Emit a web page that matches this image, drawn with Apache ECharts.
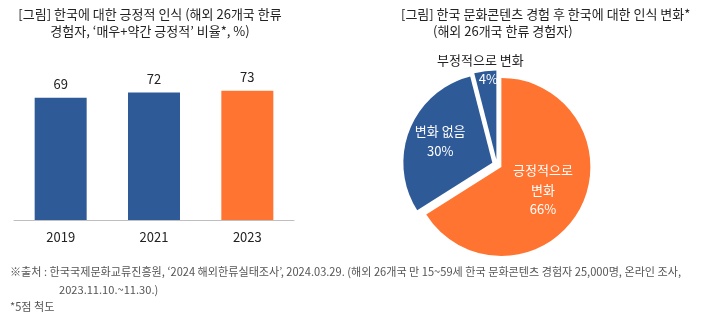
<!DOCTYPE html>
<html><head><meta charset="utf-8">
<script src="https://cdn.jsdelivr.net/npm/echarts@6/dist/echarts.min.js"></script>
<style>html,body{margin:0;padding:0;background:#fff}#c{width:710px;height:327px}</style>
</head><body><div id="c"></div>
<script>
// ---- data ----
const years = ['2019', '2021', '2023'];
const positiveRates = [69, 72, 73];
const changeNames = ['긍정적으로 변화', '변화 없음', '부정적으로 변화'];
const changeValues = [66, 30, 4];
const leftTitle = "[그림] 한국에 대한 긍정적 인식 (해외 26개국 한류\n경험자, ‘매우+약간 긍정적’ 비율*, %)";
const rightTitle1 = "[그림] 한국 문화콘텐츠 경험 후 한국에 대한 인식 변화*";
const rightTitle2 = "(해외 26개국 한류 경험자)";
const note1 = "※출처 : 한국국제문화교류진흥원, ‘2024 해외한류실태조사’, 2024.03.29. (해외 26개국 만 15~59세 한국 문화콘텐츠 경험자 25,000명, 온라인 조사,";
const note2 = "2023.11.10.~11.30.)";
const note3 = "*5점 척도";

// ---- style ----
const BLUE = '#2E5A97';
const ORANGE = '#FF7430';
const FONT = '"Noto Sans CJK KR", "Noto Sans", sans-serif';

const chart = echarts.init(document.getElementById('c'), null, {renderer: 'canvas'});
function t(text, left, top, size, color, align, lh) {
  return {text: text, left: left, top: top, padding: 0, textAlign: align || 'left',
    textStyle: {fontFamily: FONT, fontSize: size, fontWeight: 'normal', color: color, lineHeight: lh || 16}};
}
chart.setOption({
  animation: false,
  title: [
    t(leftTitle, 150, 6, 13, '#222', 'center', 17),
    t(rightTitle1, 401, 6, 13, '#222', 'left', 17),
    t(rightTitle2, 433, 23, 13, '#222', 'left', 17),
    t(note1, 10, 264, 11.1, '#555'),
    t(note2, 59, 282, 11.1, '#555'),
    t(note3, 10, 299, 11.1, '#555')
  ],
  grid: {left: 14, right: 416, top: 43, bottom: 107},
  xAxis: {
    type: 'category', data: years,
    axisLine: {lineStyle: {color: '#BFBFBF', width: 1}},
    axisTick: {show: false},
    axisLabel: {fontFamily: FONT, fontSize: 13, color: '#222', margin: 11}
  },
  yAxis: {type: 'value', min: 0, max: 100, show: false, splitLine: {show: false}},
  series: [{
    type: 'bar', data: positiveRates, barWidth: 52,
    itemStyle: {color: p => p.dataIndex === positiveRates.length - 1 ? ORANGE : BLUE},
    label: {show: true, position: 'top', distance: 7, fontFamily: FONT, fontSize: 13, color: '#222'}
  }, {
    type: 'pie', center: [497, 164.5], radius: 89, startAngle: 90, clockwise: true,
    selectedMode: 'multiple', selectedOffset: 5,
    data: changeNames.map((n, i) => ({
      name: n, value: changeValues[i], selected: true,
      itemStyle: {color: i === 0 ? ORANGE : BLUE}
    })),
    label: {
      show: true, position: 'inside', fontFamily: FONT, fontSize: 13, color: '#fff', lineHeight: 19.5,
      formatter: p => {
        if (p.dataIndex === 0) return p.name.replace(' ', '\n') + '\n' + p.value + '%';
        if (p.dataIndex === 1) return p.name + '\n' + p.value + '%';
        return '{out|' + p.name + '}\n{inn|' + p.value + '%}';
      },
      rich: {
        out: {color: '#222', fontFamily: FONT, fontSize: 13, lineHeight: 19},
        inn: {color: '#fff', fontFamily: FONT, fontSize: 13, lineHeight: 19, padding: [0, 0, 0, 16]}
      }
    },
    labelLine: {show: false},
    emphasis: {disabled: true},
    labelLayout: p => {
      if (p.dataIndex === 2) return {dx: -10, dy: -43};
      if (p.dataIndex === 1) return {dx: -8, dy: -4};
      return {};
    }
  }]
});
</script>
</body></html>
